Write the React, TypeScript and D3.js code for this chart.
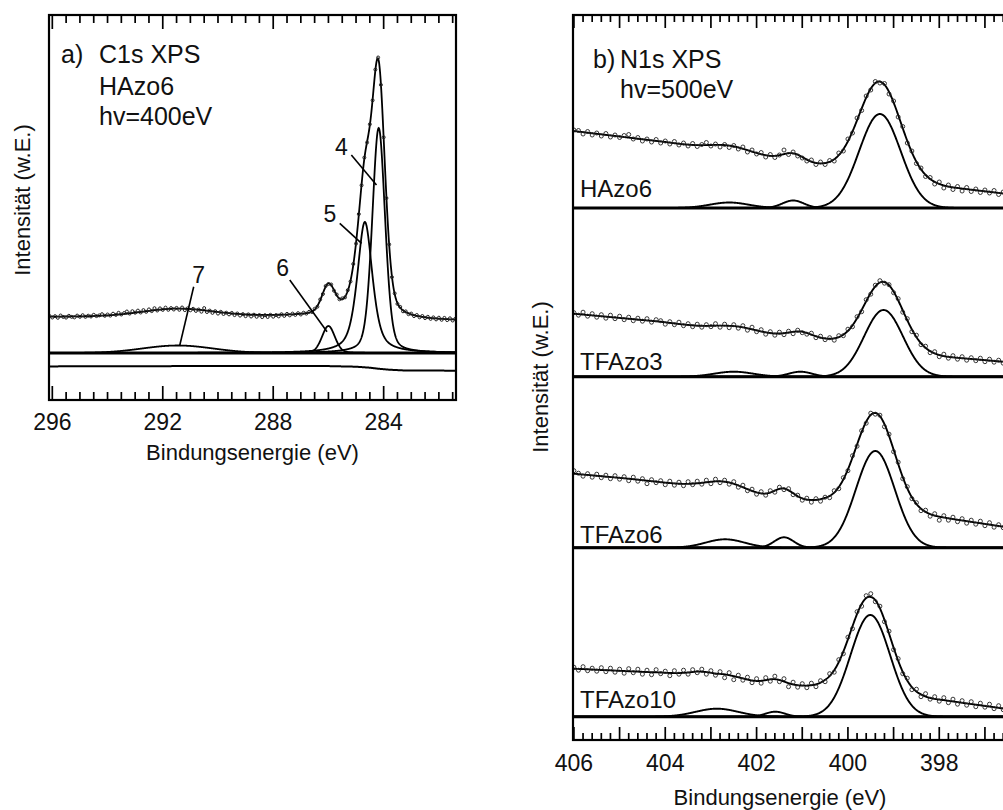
import React from "react";
import * as d3 from "d3";

// ---------------- Panel a) C1s XPS, HAzo6, hv=400eV ----------------
const c1sStartEnergy = 296.1;
const c1sStepEnergy = 0.1;
const c1sCounts = [
  37, 35.5, 36.8, 35.2, 37.5, 36, 35.4, 37.2, 36.1, 35.6,
  37.4, 36.2, 37.8, 36.1, 37.3, 36.5, 38.2, 36.9, 37.6, 38.8,
  37.2, 38.5, 37.4, 39.3, 38.1, 40.2, 38.5, 39.9, 41.5, 39.4,
  41.8, 40.3, 42.4, 40.5, 42.9, 41.2, 43.6, 41.9, 44.8, 42.5,
  44.6, 43.1, 45.4, 43.2, 44.9, 43.5, 45.1, 43.2, 45.5, 42.9,
  44.6, 42.7, 44.2, 42.1, 43.5, 41.3, 44.9, 41.0, 42.4, 40.1,
  41.8, 39.4, 41.2, 39.0, 40.3, 38.6, 40.1, 37.9, 39.5, 37.4,
  38.9, 36.8, 38.6, 36.5, 38.3, 36.2, 38.0, 35.9, 37.8, 36.0,
  38.2, 36.3, 37.9, 36.6, 38.8, 37.1, 39.1, 37.6, 39.4, 38.1,
  39.8, 38.5, 40.3, 39.4, 41.2, 41.0, 44.2, 46.3, 53.5, 59.0,
  67.0, 69.0, 68.5, 62.3, 58.5, 53.7, 54.6, 55.6, 62.8, 71.5,
  89.0, 109.4, 138.9, 167.7, 195.4, 210.5, 228.7, 252.7, 283.4, 295.5,
  268.2, 215.7, 154.9, 108.6, 75.8, 59.6, 49.1, 46.1, 41.7, 41.6,
  38.8, 39.4, 36.9, 38.0, 35.7, 37.0, 34.9, 36.2, 34.1, 35.6,
  33.6, 35.3, 33.2, 35.1, 32.9, 34.7, 32.5, 34.3,
];
// fit components: [centre (eV), height, FWHM (eV), Lorentz fraction]
const c1sComponents = [
  [284.18, 225, 0.55, 0.3],
  [284.68, 131, 0.65, 0.6],
  [286.0, 27, 0.55, 0.2],
  [291.46, 7.5, 3.0, 0],
];
const c1sBackground = [
  [296.2, 36.3], [288, 36.8], [286, 36.6], [285, 36], [284.5, 35],
  [284.2, 34], [283.8, 33], [283.3, 32.3], [281.3, 32],
];
const c1sPeakNames = ["4", "5", "6", "7"];
const c1sLabelAt = [[285.53, 198], [285.95, 131.3], [287.66, 77], [290.7, 69.7]];
const c1sLeaderFrom = [[285.17, 198], [285.59, 129.7], [287.4, 73], [290.88, 66.3]];
const c1sLeaderTo = [[284.26, 168], [284.8, 109.7], [286.05, 21.3], [291.39, 7]];
const c1sMajorTicks = [296, 292, 288, 284];

// ---------------- Panel b) N1s XPS, hv=500eV ----------------
const n1sStartEnergy = 406.0;
const n1sStepEnergy = 0.1;
const n1sSamples = ["HAzo6", "TFAzo3", "TFAzo6", "TFAzo10"];

const hazo6Counts = [
  78, 77.5, 74, 76.5, 73, 75, 72, 74.5, 71, 73,
  70.5, 72.5, 73.5, 69, 70.5, 67, 69, 66, 68.5, 65,
  67, 64, 66.5, 63, 65, 62, 64.5, 61.5, 63.5, 65.5,
  62, 64, 61, 63.5, 60.5, 62.5, 59, 61, 56, 58,
  54, 55.5, 51, 53.5, 50.5, 53, 58, 53.5, 56, 52,
  50, 47, 48, 43.5, 46, 43.5, 47.5, 47, 55, 57,
  69, 75, 90, 97.5, 112, 118, 126.5, 125, 124.5, 114,
  107, 91, 81.5, 65, 57, 44.5, 40, 31.5, 30.5, 24,
  26, 20, 23, 18.5, 21.5, 17, 20.5, 16.5, 19, 15.5,
  18, 15, 17.5, 13.5, 16,
];
const tfazo3Counts = [
  64, 61.5, 64.5, 60.5, 63, 59.5, 62, 58.5, 61.5, 58,
  60.5, 57, 59.5, 56, 58.5, 55.5, 58, 54.5, 57, 56,
  52.5, 55, 52, 54.5, 51, 53, 50, 52.5, 49.5, 52,
  50, 53, 49.5, 52.5, 49, 52, 48.5, 51, 46.5, 49.5,
  45, 47, 42.5, 45, 41.5, 44.5, 42, 45.5, 43, 46.5,
  44, 42.5, 43.5, 39, 40.5, 37, 39, 36.5, 41, 41,
  47.5, 50, 60, 65, 77, 82.5, 91.5, 96, 93.5, 92,
  84, 78, 64.5, 58, 45, 41.5, 32, 30.5, 24, 25,
  20, 22.5, 18.5, 21, 17.5, 20, 16.5, 19, 16, 18.5,
  15, 17.5, 14.5, 16.5, 13.5,
];
const tfazo6Counts = [
  77, 74.5, 71.5, 74, 70.5, 73.5, 70, 72.5, 69, 72,
  68.5, 71, 67, 70.5, 66.5, 69, 64, 68, 65, 67,
  63, 66.5, 62.5, 65.5, 62, 66, 63, 66.5, 63.5, 67.5,
  64, 68.5, 65, 67.5, 63.5, 66, 60.5, 62.5, 57, 58.5,
  53.5, 56, 52.5, 57, 55.5, 60.5, 58, 59, 53, 52.5,
  47.5, 49.5, 45.5, 49, 46.5, 50.5, 50, 57, 59, 70,
  77, 92, 101.5, 117, 124.5, 134.5, 133.5, 132.5, 121, 113.5,
  96, 85.5, 69, 61, 49, 45, 37, 37.5, 31.5, 34,
  27.5, 32, 27.5, 30.5, 26, 29, 24.5, 27.5, 23.5, 26.5,
  22, 25, 20.5, 23, 20,
];
const tfazo10Counts = [
  49.5, 46.5, 50, 46, 48.5, 45.5, 49, 45, 48.5, 44.5,
  47.5, 43.5, 48, 44, 47.5, 42.5, 46.5, 42, 47, 43,
  45.5, 41, 46, 42.5, 46.5, 42.5, 47, 44, 47.5, 42.5,
  46, 41.5, 45, 39, 44, 37, 41.5, 36.5, 39.5, 34,
  38, 33.5, 39, 35.5, 40.5, 35, 38, 30, 34.5, 29.5,
  33, 29, 33.5, 30, 36, 35, 43, 44.5, 57, 63,
  79.5, 88, 105, 110.5, 121, 123, 115, 110.5, 95, 85.5,
  67, 58, 43, 38.5, 27, 27.5, 20, 23, 17.5, 20,
  15.5, 19, 14, 17.5, 12.5, 16, 11.5, 15, 10, 13.5,
  9.5, 12.5, 8, 11, 7,
];
const n1sCounts = [hazo6Counts, tfazo3Counts, tfazo6Counts, tfazo10Counts];

// fit components per sample: [centre (eV), height, FWHM (eV)]
const hazo6Components = [[399.3, 94, 1.07], [402.6, 5.5, 1.0], [401.2, 7.5, 0.55]];
const tfazo3Components = [[399.22, 66.7, 1.0], [402.5, 5, 1.0], [401.04, 5, 0.6]];
const tfazo6Components = [[399.4, 96.7, 1.0], [402.69, 8.4, 1.0], [401.4, 10.4, 0.5]];
const tfazo10Components = [[399.51, 101.7, 1.02], [402.87, 8, 1.1], [401.59, 5, 0.5]];
const n1sComponents = [hazo6Components, tfazo3Components, tfazo6Components, tfazo10Components];

const hazo6Background = [[406.1, 77.5], [404, 66], [402, 53], [400.5, 42], [399, 30], [397.8, 21], [396.5, 14], [396, 11.3]];
const tfazo3Background = [[406.1, 63.4], [404.1, 55], [402.6, 46], [401, 40], [400.5, 37], [399.2, 28], [397.9, 20], [396.6, 15], [396, 12.7]];
const tfazo6Background = [[406.1, 74.4], [404.8, 69], [403.4, 62], [402.6, 57], [401.3, 48], [400.5, 46.5], [399.4, 38], [398.4, 33], [397.9, 30], [396.6, 21], [396, 16.8]];
const tfazo10Background = [[406.1, 48.2], [404.1, 44], [403.3, 40], [402.9, 35], [402.3, 34.5], [401.5, 32], [400.5, 29.5], [399.5, 18], [398.4, 18.5], [397.9, 16.5], [396.6, 8.2], [396, 4.4]];
const n1sBackgrounds = [hazo6Background, tfazo3Background, tfazo6Background, tfazo10Background];
const n1sLabelTicks = [406, 404, 402, 400, 398];

// ---------------- layout ----------------
const FONT = "'Liberation Sans', Arial, Helvetica, sans-serif";
const A = { left: 49, right: 456, top: 15, bottom: 400 };
const B = { left: 573, right: 1030.6, top: 15, bottom: 740 };
const aBase = 47; // baseline of panel a in intensity units
const aLowerShift = -2.7;
const bOffsets = [532, 363.3, 192.3, 23.3];
const bLabelLift = [11, 6.7, 4.5, 8.5];

function pseudoVoigt(E: number, c: number, h: number, w: number, eta: number) {
  const d = E - c;
  const r2 = (d * d) / (w * w);
  return h * (eta / (1 + 4 * r2) + (1 - eta) * Math.exp(-4 * Math.LN2 * r2));
}

function bgScale(knots: number[][]) {
  return d3
    .scaleLinear()
    .domain(knots.map((k) => k[0]))
    .range(knots.map((k) => k[1]))
    .clamp(true);
}

export default function App() {
  const xA = d3.scaleLinear().domain([296.12, 281.38]).range([A.left, A.right]);
  const yA = d3.scaleLinear().domain([0, 385]).range([A.bottom, A.top]);
  const xB = d3.scaleLinear().domain([406.02, 396]).range([B.left, B.right]);
  const yB = d3.scaleLinear().domain([0, 725]).range([B.bottom, B.top]);

  const lineA = d3
    .line<[number, number]>()
    .x((d) => xA(d[0]))
    .y((d) => yA(d[1]));
  const lineB = d3
    .line<[number, number]>()
    .x((d) => xB(d[0]))
    .y((d) => yB(d[1]));

  // ---- panel a curves ----
  const gridA = d3.range(0, 1476).map((i) => 296.12 - i * 0.01);
  const bgA = bgScale(c1sBackground);
  const envA: [number, number][] = gridA.map((E) => [
    E,
    aBase + bgA(E) + d3.sum(c1sComponents, (p) => pseudoVoigt(E, p[0], p[1], p[2], p[3])),
  ]);
  const compsA = c1sComponents.map((p) =>
    gridA.map((E) => [E, aBase + pseudoVoigt(E, p[0], p[1], p[2], p[3])] as [number, number])
  );
  const lowerA: [number, number][] = gridA.map((E) => [E, bgA(E) + aLowerShift]);
  const pointsA = c1sCounts.map((v, i) => [c1sStartEnergy - i * c1sStepEnergy, aBase + v]);

  const minorA = d3.range(563, 593).map((v) => v / 2);

  // ---- panel b curves ----
  const gridB = d3.range(0, 1003).map((i) => 406.02 - i * 0.01);
  const spectraB = n1sSamples.map((name, s) => {
    const off = bOffsets[s];
    const bg = bgScale(n1sBackgrounds[s]);
    const comps = n1sComponents[s];
    const env: [number, number][] = gridB.map((E) => [
      E,
      off + bg(E) + d3.sum(comps, (p) => pseudoVoigt(E, p[0], p[1], p[2], 0)),
    ]);
    const compLines = comps.map((p) =>
      gridB.map((E) => [E, off + pseudoVoigt(E, p[0], p[1], p[2], 0)] as [number, number])
    );
    const pts = n1sCounts[s].map((v, i) => [n1sStartEnergy - i * n1sStepEnergy, off + v]);
    return { name, off, env, compLines, pts };
  });
  const minorB = d3.range(1980, 2031).map((v) => v / 5);
  const majorB = d3.range(396, 407);

  const tickStyle = { stroke: "#000", strokeWidth: 1.7 };

  return (
    <svg
      width={1003}
      height={810}
      style={{ position: "absolute", left: 0, top: 0, display: "block", background: "#fff" }}
      fontFamily={FONT}
    >
      <defs>
        <clipPath id="clipA">
          <rect x={A.left} y={A.top} width={A.right - A.left} height={A.bottom - A.top} />
        </clipPath>
        <clipPath id="clipB">
          <rect x={B.left} y={B.top} width={B.right - B.left} height={B.bottom - B.top} />
        </clipPath>
      </defs>

      {/* ================= Panel a ================= */}
      <g clipPath="url(#clipA)">
        <line x1={A.left} x2={A.right} y1={yA(aBase)} y2={yA(aBase)} stroke="#000" strokeWidth={3} />
        <path d={lineA(lowerA) || ""} fill="none" stroke="#000" strokeWidth={2} />
        {compsA.map((c, i) => (
          <path key={i} d={lineA(c) || ""} fill="none" stroke="#000" strokeWidth={1.8} />
        ))}
        <path d={lineA(envA) || ""} fill="none" stroke="#000" strokeWidth={1.8} />
        {pointsA.map((p, i) => (
          <circle key={i} cx={xA(p[0])} cy={yA(p[1])} r={1.5} fill="none" stroke="#222" strokeWidth={1} />
        ))}
      </g>
      {c1sPeakNames.map((n, i) => (
        <g key={n}>
          <line
            x1={xA(c1sLeaderFrom[i][0])}
            y1={yA(aBase + c1sLeaderFrom[i][1])}
            x2={xA(c1sLeaderTo[i][0])}
            y2={yA(aBase + c1sLeaderTo[i][1])}
            stroke="#000"
            strokeWidth={1.6}
          />
          <text
            x={xA(c1sLabelAt[i][0])}
            y={yA(aBase + c1sLabelAt[i][1])}
            fontSize={23}
            textAnchor="middle"
            fill="#111"
          >
            {n}
          </text>
        </g>
      ))}
      {/* ticks a */}
      {minorA.map((t) => {
        const major = c1sMajorTicks.includes(t);
        const len = major ? 14 : 8;
        return (
          <g key={t}>
            <line x1={xA(t)} x2={xA(t)} y1={A.bottom} y2={A.bottom - len} {...tickStyle} />
            <line x1={xA(t)} x2={xA(t)} y1={A.top} y2={A.top + len} {...tickStyle} />
          </g>
        );
      })}
      <rect
        x={A.left}
        y={A.top}
        width={A.right - A.left}
        height={A.bottom - A.top}
        fill="none"
        stroke="#000"
        strokeWidth={2.2}
      />
      {c1sMajorTicks.map((t) => (
        <text key={t} x={xA(t)} y={430} fontSize={23} textAnchor="middle" fill="#111">
          {t}
        </text>
      ))}
      <text x={(A.left + A.right) / 2} y={460} fontSize={22} textAnchor="middle" fill="#111">
        Bindungsenergie (eV)
      </text>
      <text transform="translate(30,200) rotate(-90)" fontSize={22} textAnchor="middle" fill="#111">
        Intensität (w.E.)
      </text>
      <text x={61} y={63.3} fontSize={25} fill="#111">a)</text>
      <text x={99} y={63.3} fontSize={25} fill="#111">C1s XPS</text>
      <text x={99} y={95} fontSize={25} fill="#111">HAzo6</text>
      <text x={99} y={125} fontSize={25} fill="#111">hv=400eV</text>

      {/* ================= Panel b ================= */}
      <g clipPath="url(#clipB)">
        {spectraB.map((s) => (
          <g key={s.name}>
            <line x1={B.left} x2={B.right} y1={yB(s.off)} y2={yB(s.off)} stroke="#000" strokeWidth={3} />
            {s.compLines.map((c, i) => (
              <path key={i} d={lineB(c) || ""} fill="none" stroke="#000" strokeWidth={1.9} />
            ))}
            <path d={lineB(s.env) || ""} fill="none" stroke="#000" strokeWidth={1.9} />
            {s.pts.map((p, i) => (
              <circle key={i} cx={xB(p[0])} cy={yB(p[1])} r={2} fill="none" stroke="#222" strokeWidth={0.9} />
            ))}
          </g>
        ))}
      </g>
      {spectraB.map((s, i) => (
        <text key={s.name} x={580} y={yB(s.off + bLabelLift[i])} fontSize={24} fill="#111">
          {s.name}
        </text>
      ))}
      {minorB.map((t) => {
        const major = majorB.includes(t);
        const len = major ? 13 : 7;
        return (
          <g key={t}>
            <line x1={xB(t)} x2={xB(t)} y1={B.bottom} y2={B.bottom - len} {...tickStyle} />
            <line x1={xB(t)} x2={xB(t)} y1={B.top} y2={B.top + len} {...tickStyle} />
          </g>
        );
      })}
      <rect
        x={B.left}
        y={B.top}
        width={B.right - B.left}
        height={B.bottom - B.top}
        fill="none"
        stroke="#000"
        strokeWidth={2.2}
      />
      {n1sLabelTicks.map((t) => (
        <text key={t} x={xB(t)} y={771} fontSize={23} textAnchor="middle" fill="#111">
          {t}
        </text>
      ))}
      <text x={780} y={805} fontSize={22} textAnchor="middle" fill="#111">
        Bindungsenergie (eV)
      </text>
      <text transform="translate(548,377) rotate(-90)" fontSize={22} textAnchor="middle" fill="#111">
        Intensität (w.E.)
      </text>
      <text x={593} y={68.3} fontSize={25} fill="#111">b)</text>
      <text x={620} y={68.3} fontSize={25} fill="#111">N1s XPS</text>
      <text x={620} y={98.3} fontSize={25} fill="#111">hv=500eV</text>
    </svg>
  );
}
